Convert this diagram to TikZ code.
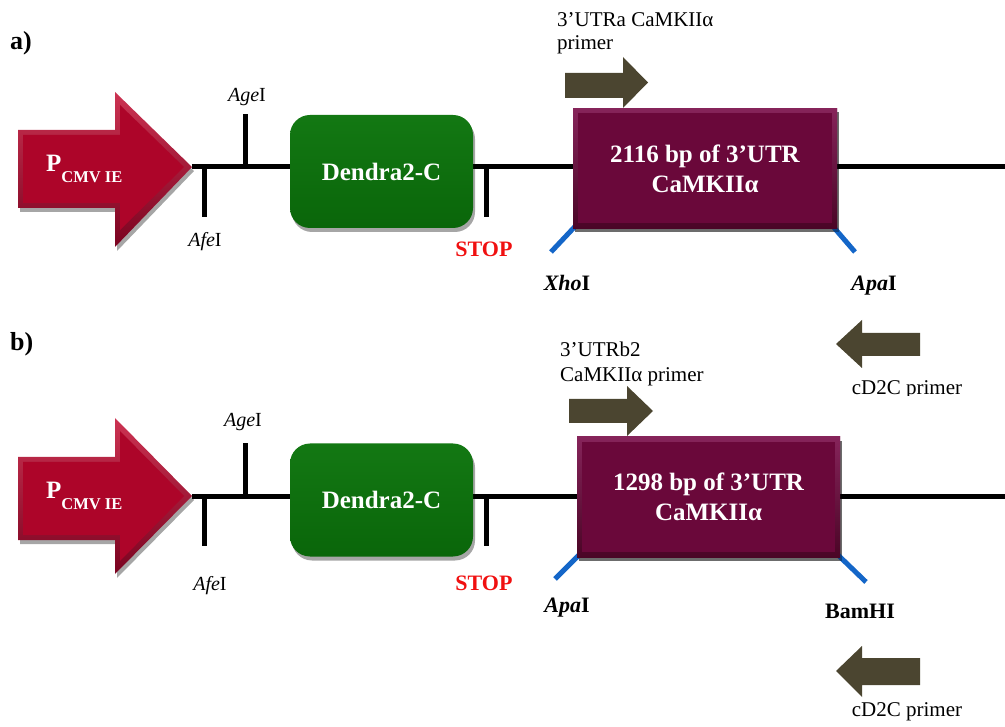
\documentclass[tikz,border=0pt]{standalone}
\usepackage{fontspec}
\setmainfont{Liberation Serif}
\usetikzlibrary{shadows}

\definecolor{cmvred}{HTML}{AD0529}
\definecolor{cmvlight}{HTML}{CC3352}
\definecolor{cmvdark}{HTML}{7A0320}
\definecolor{dgreen}{HTML}{0A660A}
\definecolor{dgreenlight}{HTML}{137813}
\definecolor{utrpurple}{HTML}{6A083A}
\definecolor{utrlight}{HTML}{86245A}
\definecolor{utrdark}{HTML}{4A0526}
\definecolor{primerbrown}{HTML}{4B4530}
\definecolor{siteblue}{HTML}{1466C8}
\definecolor{stopred}{HTML}{F01010}

\tikzset{
  softshadow/.style={drop shadow={shadow xshift=2pt, shadow yshift=-4pt, opacity=0.35, fill=black}},
  dnaline/.style={line width=5pt, black},
  sitetick/.style={line width=5pt, black},
  sitecut/.style={line width=5pt, siteblue},
  promoterbody/.style={top color=cmvlight, bottom color=cmvdark, softshadow},
  promotercore/.style={fill=cmvred},
  genebox/.style={rectangle, rounded corners=20pt, top color=dgreenlight, bottom color=dgreen,
    minimum width=183pt, minimum height=113pt, inner sep=0pt, text=white,
    font=\fontsize{25}{30}\selectfont\bfseries, softshadow},
  utrbox/.style={rectangle, top color=utrlight, bottom color=utrdark,
    minimum height=120pt, inner sep=0pt, text=white, align=center,
    font=\fontsize{25}{30}\selectfont\bfseries, softshadow,
    path picture={\fill[utrpurple]
      ([shift={(5pt,5pt)}]path picture bounding box.south west) rectangle
      ([shift={(-5pt,-5pt)}]path picture bounding box.north east);}},
  primerarrow/.style={fill=primerbrown},
  primertext/.style={anchor=base west, inner sep=0pt, font=\fontsize{21}{24}\selectfont},
  sitelabel/.style={anchor=base, inner sep=0pt, font=\fontsize{20}{24}\selectfont},
  cutlabel/.style={anchor=base, inner sep=0pt, font=\fontsize{22}{26}\selectfont\bfseries},
  stoplabel/.style={anchor=base, inner sep=0pt, text=stopred, font=\fontsize{22}{26}\selectfont\bfseries},
  panellabel/.style={anchor=base west, inner sep=0pt, font=\fontsize{26}{30}\selectfont\bfseries},
  cmvlabel/.style={anchor=base west, inner sep=0pt, text=white, font=\bfseries},
}

\newcommand{\cmvtext}{{\fontsize{25}{30}\selectfont P}\raisebox{-11pt}{\fontsize{16.5}{19}\selectfont CMV IE}}

\begin{document}
\begin{tikzpicture}[x=1pt, y=-1pt]
\useasboundingbox (0,0) rectangle (1005,727);

% ---------------- construct a) ----------------
\node[panellabel] (a-label) at (10,50) {a)};

\coordinate (a-tip) at (192,167);
\coordinate (a-end) at (1008,167);
\draw[dnaline] (a-tip) -- (a-end);

% restriction sites on the backbone
\coordinate (a-age-base) at (245,167);
\coordinate (a-age-top) at (245,114);
\draw[sitetick] (a-age-base) -- (a-age-top);
\node[sitelabel] (a-age) at (247,102) {\textit{Age}I};

\coordinate (a-afe-base) at (204,167);
\coordinate (a-afe-bot) at (204,217);
\draw[sitetick] (a-afe-base) -- (a-afe-bot);
\node[sitelabel] (a-afe) at (205,247) {\textit{Afe}I};

\coordinate (a-stop-base) at (486,167);
\coordinate (a-stop-bot) at (486,217);
\draw[sitetick] (a-stop-base) -- (a-stop-bot);
\node[stoplabel] (a-stop) at (484,257) {STOP};

% promoter arrow
\path[promoterbody] (18,130) -- (115,130) -- (115,92) -- (a-tip) -- (115,247) -- (115,208) -- (18,208) -- cycle;
\fill[promotercore] (23,135) -- (120,135) -- (120,105) -- (184,167) -- (120,230) -- (120,203) -- (23,203) -- cycle;
\node[cmvlabel] (a-cmv) at (46,172) {\cmvtext};

% Dendra2 coding sequence
\node[genebox] (a-dendra) at (381.5,171.5) {Dendra2-C};

% cloning sites at the insert ends
\coordinate (a-xho-cut) at (551,252);
\coordinate (a-apa-cut) at (855,252);
\node[utrbox, minimum width=264pt] (a-utr) at (705,168.5) {};
\draw[sitecut] ([xshift=2pt,yshift=2pt]a-utr.south west) -- (a-xho-cut);
\draw[sitecut] ([xshift=-4pt,yshift=2pt]a-utr.south east) -- (a-apa-cut);
\node[utrbox, minimum width=264pt] (a-utr) at (705,168.5) {2116 bp of 3’UTR\\CaMKIIα};
\node[cutlabel] (a-xho) at (567,291) {\textit{Xho}I};
\node[cutlabel] (a-apa) at (874,291) {\textit{Apa}I};

% primers
\fill[primerarrow] (565,73) -- (623,73) -- (623,57) -- (648,82.5) -- (623,108) -- (623,98) -- (565,98) -- cycle;
\node[primertext] (a-fwd1) at (557,27) {3’UTRa CaMKIIα};
\node[primertext] (a-fwd2) at (557,50) {primer};

\fill[primerarrow] (920,333) -- (862,333) -- (862,320) -- (836,344) -- (862,368) -- (862,356) -- (920,356) -- cycle;
\begin{scope}
  \clip (800,370) rectangle (1005,396);
  \node[primertext, anchor=base] (a-rev) at (907,395) {cD2C primer};
\end{scope}

% ---------------- construct b) ----------------
\node[panellabel] (b-label) at (10,351) {b)};

\coordinate (b-tip) at (192,496);
\coordinate (b-end) at (1008,496);
\draw[dnaline] (b-tip) -- (b-end);

\coordinate (b-age-base) at (245,496);
\coordinate (b-age-top) at (245,443);
\draw[sitetick] (b-age-base) -- (b-age-top);
\node[sitelabel] (b-age) at (243,427) {\textit{Age}I};

\coordinate (b-afe-base) at (204,496);
\coordinate (b-afe-bot) at (204,546);
\draw[sitetick] (b-afe-base) -- (b-afe-bot);
\node[sitelabel] (b-afe) at (210,590) {\textit{Afe}I};

\coordinate (b-stop-base) at (486,496);
\coordinate (b-stop-bot) at (486,546);
\draw[sitetick] (b-stop-base) -- (b-stop-bot);
\node[stoplabel] (b-stop) at (484,590) {STOP};

\path[promoterbody] (18,457) -- (115,457) -- (115,418) -- (b-tip) -- (115,574) -- (115,540) -- (18,540) -- cycle;
\fill[promotercore] (23,462) -- (120,462) -- (120,431) -- (184,496) -- (120,561) -- (120,535) -- (23,535) -- cycle;
\node[cmvlabel] (b-cmv) at (46,499) {\cmvtext};

\node[genebox] (b-dendra) at (381.5,500) {Dendra2-C};

\coordinate (b-apa-cut) at (555,579);
\coordinate (b-bam-cut) at (866,582);
\node[utrbox, minimum width=263pt] (b-utr) at (708.5,497) {};
\draw[sitecut] ([xshift=2pt,yshift=2pt]b-utr.south west) -- (b-apa-cut);
\draw[sitecut] ([xshift=-2pt,yshift=2pt]b-utr.south east) -- (b-bam-cut);
\node[utrbox, minimum width=263pt] (b-utr) at (708.5,497) {1298 bp of 3’UTR\\CaMKIIα};
\node[cutlabel] (b-apa) at (567,612) {\textit{Apa}I};
\node[cutlabel] (b-bam) at (860,618) {BamHI};

\fill[primerarrow] (569,399) -- (627,399) -- (627,386) -- (653,411) -- (627,436) -- (627,423) -- (569,423) -- cycle;
\node[primertext] (b-fwd1) at (560,357) {3’UTRb2};
\node[primertext] (b-fwd2) at (560,382) {CaMKIIα primer};

\fill[primerarrow] (920,658) -- (862,658) -- (862,646) -- (836,671) -- (862,697) -- (862,685) -- (920,685) -- cycle;
\node[primertext, anchor=base] (b-rev) at (907,716) {cD2C primer};

\end{tikzpicture}
\end{document}
